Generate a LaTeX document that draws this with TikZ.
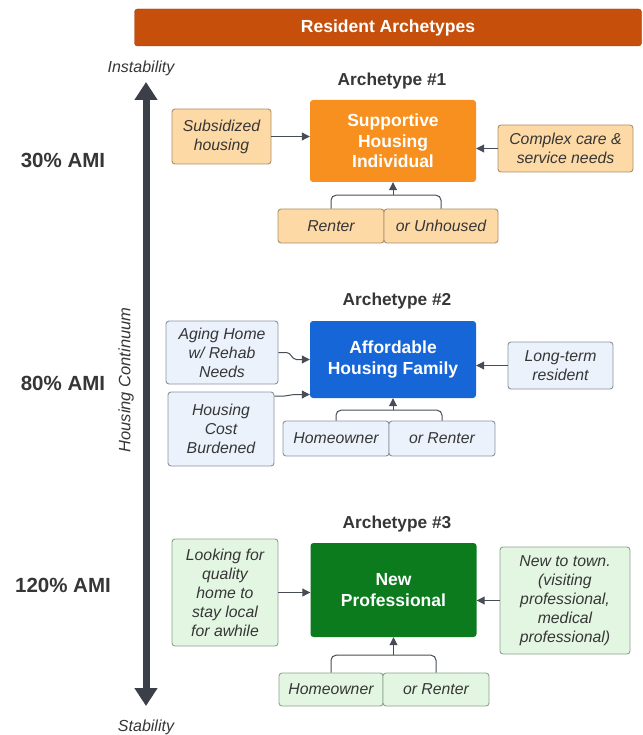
\documentclass[tikz,border=0pt]{standalone}
\usepackage{fontspec}
\setmainfont{Liberation Sans}
\usepackage{tikz}
\usetikzlibrary{positioning,arrows.meta}

\begin{document}
\begin{tikzpicture}[x=1pt, y=-1pt,
    every node/.style={inner sep=0pt, align=center, text=ink},
    mainbox/.style={rounded corners=3pt, minimum width=166pt, text=white, font=\fontsize{17.5}{20.5}\selectfont\bfseries},
    sidebox/.style={rounded corners=3pt, line width=0.9pt, font=\fontsize{15.8}{19}\selectfont\itshape},
    peach/.style={sidebox, draw=peachedge, fill=peachfill},
    sky/.style={sidebox, draw=skyedge, fill=skyfill},
    mint/.style={sidebox, draw=mintedge, fill=mintfill},
    heading/.style={font=\fontsize{17.3}{20}\selectfont\bfseries},
    amilabel/.style={font=\fontsize{20.5}{22}\selectfont\bfseries},
    flow/.style={draw=wire, line width=1pt, -{Triangle[length=8pt,width=8pt]}},
    link/.style={draw=wire, line width=1pt, rounded corners=5pt}]
            % palette taken from the chart
            \definecolor{ink}{HTML}{363636}
            \definecolor{wire}{HTML}{474D57}
            \definecolor{axis}{HTML}{3B3F48}
            \definecolor{barfill}{HTML}{C64F0C}
            \definecolor{orangefill}{HTML}{F7901E}
            \definecolor{bluefill}{HTML}{1666D8}
            \definecolor{greenfill}{HTML}{0B7B1E}
            \definecolor{peachfill}{HTML}{FDD9A5}
            \definecolor{peachedge}{HTML}{A8906C}
            \definecolor{skyfill}{HTML}{EBF2FC}
            \definecolor{skyedge}{HTML}{8A939F}
            \definecolor{mintfill}{HTML}{E2F6E2}
            \definecolor{mintedge}{HTML}{8CA38C}
            \useasboundingbox (0,0) rectangle (642,735);

            % header bar
            \node[rounded corners=3pt, fill=barfill, draw=barfill!80!black, minimum width=507pt, minimum height=37pt,
                  text=white, font=\fontsize{17.5}{20}\selectfont\bfseries] (bar) at (388,27.5) {Resident Archetypes};

            % housing continuum axis
            \coordinate (up) at (146,82);
            \coordinate (down) at (146,706);
            \draw[line width=7pt, draw=axis, {Triangle[length=18pt,width=22pt]}-{Triangle[length=18pt,width=22pt]}] (up) -- (down);
            \node[font=\fontsize{16}{19}\selectfont\itshape] (instab) at (141,68) {Instability};
            \node[font=\fontsize{16}{19}\selectfont\itshape] (stab) at (146,727) {Stability};
            \node[font=\fontsize{16.5}{19}\selectfont\itshape, rotate=90] (continuum) at (126,380) {Housing Continuum};
            \node[amilabel] (ami30) at (63,160) {30\% AMI};
            \node[amilabel] (ami80) at (63,383) {80\% AMI};
            \node[amilabel] (ami120) at (63,585) {120\% AMI};

            % archetype 1
            \node[heading] (h1) at (392,81) {Archetype \#1};
            \node[mainbox, fill=orangefill, minimum height=82pt] (m1) at (393,141) {Supportive\\Housing\\Individual};
            \node[peach, minimum width=99pt, minimum height=55pt] (subsid) at (221.5,136.5) {Subsidized\\housing};
            \node[peach, minimum width=135pt, minimum height=47pt] (complex) at (565.5,148.5) {Complex care \&\\service needs};
            \node[peach, minimum width=106pt, minimum height=34pt] (renter1) at (331,226) {Renter};
            \node[peach, minimum width=114pt, minimum height=34pt] (unhoused1) at (441,226) {or Unhoused};
            \coordinate[below=13pt of m1.south] (j1);
            \draw[flow] (subsid.east) -- (subsid.east -| m1.west);
            \draw[flow] (complex.west) -- (complex.west -| m1.east);
            \draw[link] (renter1.north) |- (j1) -| (unhoused1.north);
            \draw[flow] (j1) -- (m1.south);

            % archetype 2
            \node[heading] (h2) at (397,301) {Archetype \#2};
            \node[mainbox, fill=bluefill, minimum height=77pt] (m2) at (393,359.5) {Affordable\\Housing Family};
            \node[sky, minimum width=112pt, minimum height=63pt] (aging) at (222,352.5) {Aging Home\\w/ Rehab\\Needs};
            \node[sky, minimum width=106pt, minimum height=74pt] (cost) at (221,429) {Housing\\Cost\\Burdened};
            \node[sky, minimum width=105pt, minimum height=47pt] (longterm) at (560.5,365.5) {Long-term\\resident};
            \node[sky, minimum width=106pt, minimum height=35pt] (owner2) at (336,438.5) {Homeowner};
            \node[sky, minimum width=106pt, minimum height=35pt] (renter2) at (442,438.5) {or Renter};
            \coordinate[below=12pt of m2.south] (j2);
            \draw[flow] (aging.east) -- ++(8,0) to[out=0, in=180] ++(10,7) -- (m2.west);
            \draw[flow] ([yshift=33pt]cost.east) -- ++(10,0) to[out=0, in=180] ++(10,-1.5) -- ([yshift=-35pt]m2.west);
            \draw[flow] (longterm.west) -- (longterm.west -| m2.east);
            \draw[link] (owner2.north) |- (j2) -| (renter2.north);
            \draw[flow] (j2) -- (m2.south);

            % archetype 3
            \node[heading] (h3) at (397,524) {Archetype \#3};
            \node[mainbox, fill=greenfill, minimum height=94pt] (m3) at (393.5,590) {New\\Professional};
            \node[mint, minimum width=106pt, minimum height=107pt] (looking) at (225,592.5) {Looking for\\quality\\home to\\stay local\\for awhile};
            \node[mint, minimum width=130pt, minimum height=107pt] (newtown) at (565,600.5) {New to town.\\(visiting\\professional,\\medical\\professional)};
            \node[mint, minimum width=104pt, minimum height=33pt] (owner3) at (331,689.5) {Homeowner};
            \node[mint, minimum width=106pt, minimum height=33pt] (renter3) at (436,689.5) {or Renter};
            \coordinate[below=18pt of m3.south] (j3);
            \draw[flow] (looking.east) -- (looking.east -| m3.west);
            \draw[flow] (newtown.west) -- (newtown.west -| m3.east);
            \draw[link] (owner3.north) |- (j3) -| (renter3.north);
            \draw[flow] (j3) -- (m3.south);
        \end{tikzpicture}
\end{document}
